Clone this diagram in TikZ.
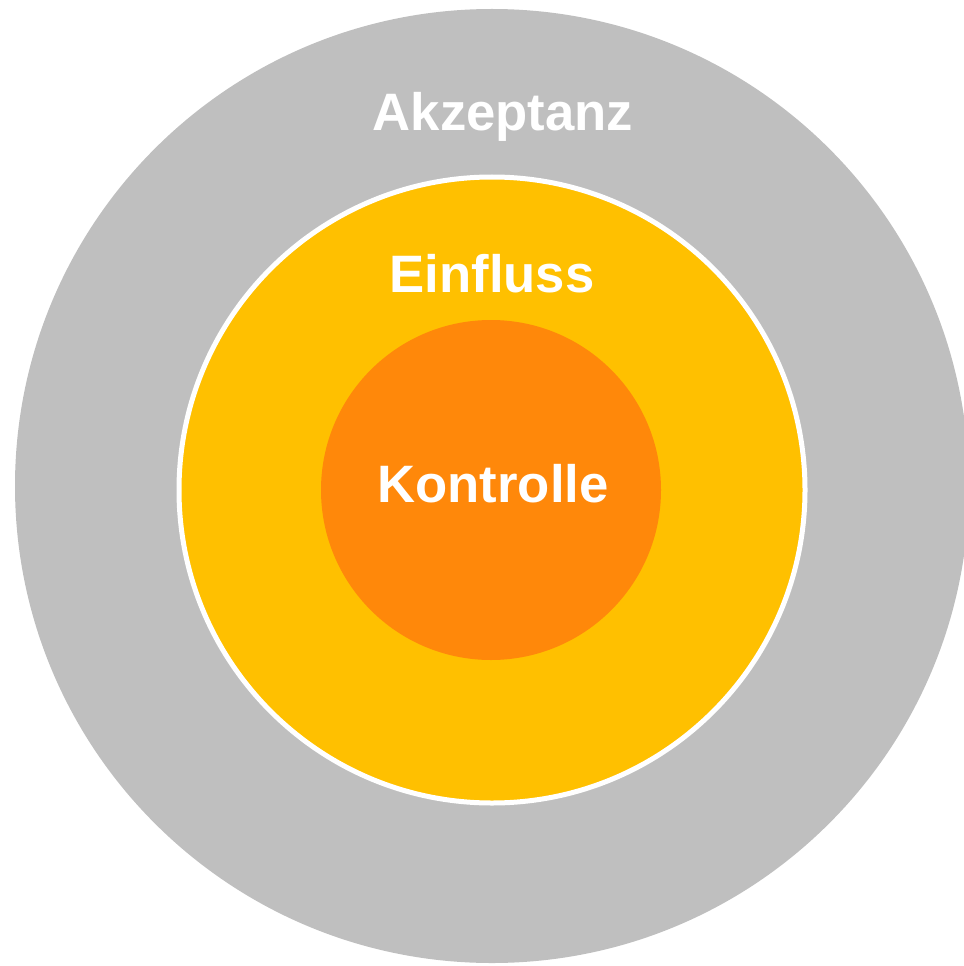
\documentclass[tikz,border=0pt]{standalone}
\usepackage{fontspec}
\setmainfont{Liberation Sans}
\definecolor{ringgray}{RGB}{191,191,191}
\definecolor{ringyellow}{RGB}{255,192,0}
\definecolor{ringorange}{RGB}{255,136,10}
\begin{document}
\begin{tikzpicture}[x=0.75pt,y=-0.75pt,
  ring/.style={circle,inner sep=0pt,outer sep=0pt},
  lbl/.style={anchor=base,text=white,inner sep=0pt,font=\bfseries\fontsize{39.5pt}{40pt}\selectfont}]
\useasboundingbox (0,0) rectangle (963,966);
\node[ring,fill=ringgray,minimum size=954*0.75pt] (outer) at (492,486) {};
\node[ring,fill=ringyellow,draw=white,line width=3.75pt,minimum size=626*0.75pt] (mid) at (492,490) {};
\node[ring,fill=ringorange,minimum size=340*0.75pt] (inner) at (491,490) {};
\node[lbl] (akz) at (503,131) {Akzeptanz};
\node[lbl] (einf) at (492,292) {Einfluss};
\node[lbl] (kont) at (493,502) {Kontrolle};
\end{tikzpicture}
\end{document}
